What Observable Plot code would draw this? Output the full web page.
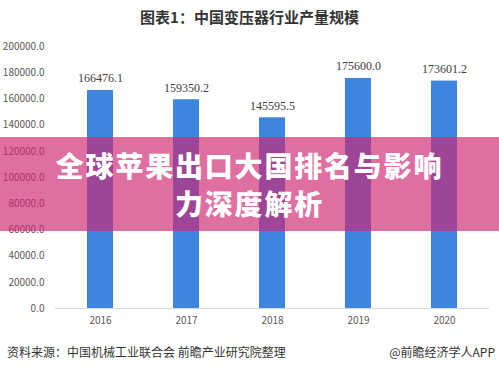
<!DOCTYPE html>
<html>
<head>
<meta charset="utf-8">
<script src="https://cdn.jsdelivr.net/npm/d3@7"></script>
<script src="https://cdn.jsdelivr.net/npm/@observablehq/plot@0.6"></script>
<style>
  html, body { margin: 0; padding: 0; background: #fff; }
  #wrap { position: relative; width: 499px; height: 370px; overflow: hidden; background: #fff; font-family: "Noto Sans CJK SC", "Noto Sans", sans-serif; }
  #title { position: absolute; left: 0; top: 6px; width: 499px; text-align: center; font-size: 15px; font-weight: bold; color: #333; }
  #source { position: absolute; left: 7px; top: 343px; font-size: 12px; color: #333; }
  #app { position: absolute; right: 4px; top: 343px; font-size: 12px; color: #333; }
  #banner { position: absolute; left: 0; top: 137px; width: 499px; height: 94px; background: rgba(208, 36, 112, 0.66); color: #fff; text-align: center; font-weight: 900; font-size: 28px; letter-spacing: 1.8px; line-height: 38px; padding-top: 9px; box-sizing: border-box; }
  #plot { position: absolute; left: 0; top: 0; }
</style>
</head>
<body>
<div id="wrap">
  <div id="plot"></div>
  <div id="title">图表1：中国变压器行业产量规模</div>
  <div id="banner">全球苹果出口大国排名与影响<br>力深度解析</div>
  <div id="source">资料来源：中国机械工业联合会 前瞻产业研究院整理</div>
  <div id="app">@前瞻经济学人APP</div>
</div>
<script>
const years = ["2016", "2017", "2018", "2019", "2020"];
const output = [166476.1, 159350.2, 145595.5, 175600.0, 173601.2];
const yTicks = [0, 20000, 40000, 60000, 80000, 100000, 120000, 140000, 160000, 180000, 200000];

const data = years.map((y, i) => ({year: y, value: output[i]}));

const chart = Plot.plot({
  width: 499,
  height: 370,
  marginTop: 46,
  marginBottom: 62,
  marginLeft: 55,
  marginRight: 10,
  style: {fontFamily: "'Noto Sans CJK SC', sans-serif", fontSize: "10px", color: "#595959", background: "transparent"},
  x: {domain: years, paddingInner: 0.7, paddingOuter: 0.35, label: null, tickSize: 0, tickPadding: 8},
  y: {domain: [0, 200000], ticks: yTicks, label: null, tickSize: 0, tickPadding: 11, tickFormat: d => d.toFixed(1)},
  marks: [
    Plot.barY(data, {x: "year", y: "value", fill: "#3d85de"}),
    Plot.ruleY([0], {stroke: "#d9d9d9"}),
    Plot.text(data, {x: "year", y: "value", text: d => d.value.toFixed(1), dy: -12, fill: "#404040", fontSize: 12, fontFamily: "'Liberation Serif', serif"})
  ]
});
document.getElementById("plot").appendChild(chart);
</script>
</body>
</html>
